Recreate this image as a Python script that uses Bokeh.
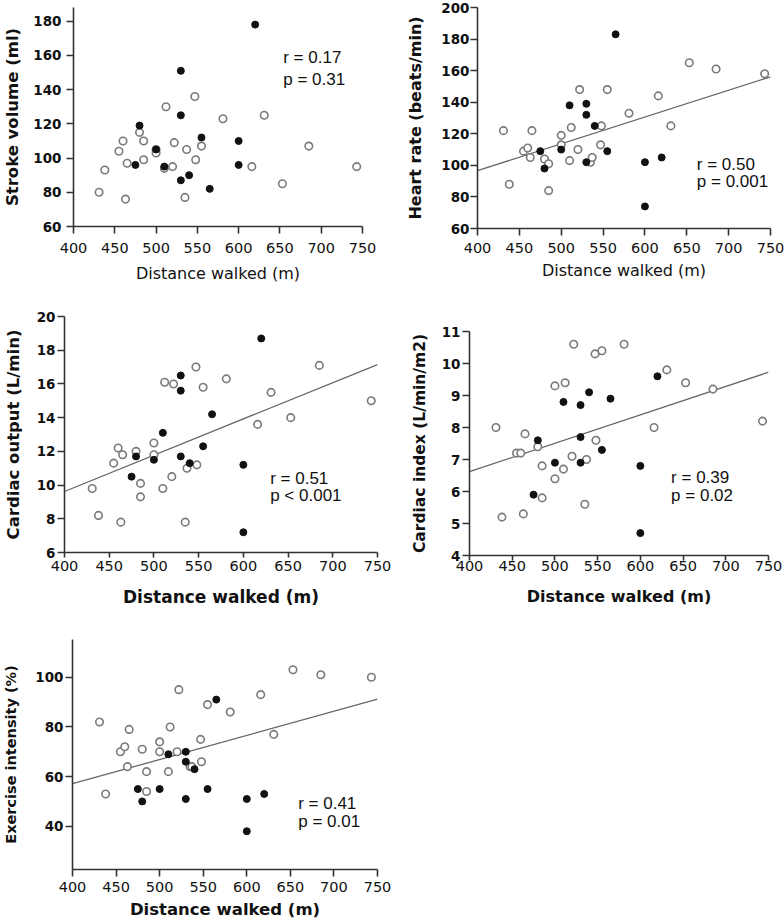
import numpy as np
from bokeh.plotting import figure
from bokeh.models import Range1d, FixedTicker, Label
from bokeh.layouts import column, row
from bokeh.embed import file_html
from bokeh.resources import INLINE

# ---------------- data ----------------
x_ticks = [400, 450, 500, 550, 600, 650, 700, 750]

# distance walked (m); open circles and filled circles
x_open = [431, 438, 455, 460, 463, 465, 480, 485, 485, 500, 500, 510, 512,
          520, 522, 535, 537, 547, 548, 555, 581, 616, 631, 653, 685, 743]
x_filled = [475, 480, 500, 510, 530, 530, 530, 540, 555, 565, 600, 600, 620]

sv_open = [80, 93, 104, 110, 76, 97, 115, 110, 99, 105, 103, 94, 130,
           95, 109, 77, 105, 136, 99, 107, 123, 95, 125, 85, 107, 95]
sv_filled = [96, 119, 105, 95, 151, 125, 87, 90, 112, 82, 110, 96, 178]

hr_open = [122, 88, 109, 111, 105, 122, 104, 101, 84, 119, 113, 103, 124,
           110, 148, 102, 105, 113, 125, 148, 133, 144, 125, 165, 161, 158]
hr_filled = [109, 98, 110, 138, 139, 132, 102, 125, 109, 183, 102, 74, 105]

co_open = [9.8, 8.2, 11.3, 12.2, 7.8, 11.8, 12.0, 10.1, 9.3, 12.5, 11.8, 9.8, 16.1,
           10.5, 16.0, 7.8, 11.0, 17.0, 11.2, 15.8, 16.3, 13.6, 15.5, 14.0, 17.1, 15.0]
co_filled = [10.5, 11.7, 11.5, 13.1, 16.5, 15.6, 11.7, 11.3, 12.3, 14.2, 11.2, 7.2, 18.7]

ci_open = [8.0, 5.2, 7.2, 7.2, 5.3, 7.8, 7.4, 6.8, 5.8, 9.3, 6.4, 6.7, 9.4,
           7.1, 10.6, 5.6, 7.0, 10.3, 7.6, 10.4, 10.6, 8.0, 9.8, 9.4, 9.2, 8.2]
ci_filled = [5.9, 7.6, 6.9, 8.8, 8.7, 7.7, 6.9, 9.1, 7.3, 8.9, 6.8, 4.7, 9.6]

ei_open = [82, 53, 70, 72, 64, 79, 71, 62, 54, 74, 70, 62, 80,
           70, 95, 64, 64, 75, 66, 89, 86, 93, 77, 103, 101, 100]
ei_filled = [55, 50, 55, 69, 70, 66, 51, 63, 55, 91, 51, 38, 53]

sv_ticks = [60, 80, 100, 120, 140, 160, 180]
hr_ticks = [60, 80, 100, 120, 140, 160, 180, 200]
co_ticks = [6, 8, 10, 12, 14, 16, 18, 20]
ci_ticks = [4, 5, 6, 7, 8, 9, 10, 11]
ei_ticks = [40, 60, 80, 100]

stats = {
    "sv": ("r = 0.17", "p = 0.31"),
    "hr": ("r = 0.50", "p = 0.001"),
    "co": ("r = 0.51", "p < 0.001"),
    "ci": ("r = 0.39", "p = 0.02"),
    "ei": ("r = 0.41", "p = 0.01"),
}

TICK_FONT = "DejaVu Sans"
ANN_FONT = "Liberation Sans"
AXIS_COL = "#333333"


def panel(width, height, yr, yticks, borders, ylabel, yo, yf, fit, ann,
          x_label_bold=False, ylab_size="16px", ylab_standoff=7,
          ytick_standoff=2, xlab_standoff=6, xtick_standoff=6,
          xtick_out=7, xlab_size="16px"):
    left, right, top, bottom = borders
    p = figure(width=width, height=height,
               x_range=Range1d(400, 750), y_range=Range1d(*yr),
               output_backend="svg", toolbar_location=None,
               min_border_left=left, min_border_right=right,
               min_border_top=top, min_border_bottom=bottom)
    p.outline_line_color = None
    p.grid.visible = False
    p.background_fill_color = "white"
    p.border_fill_color = "white"

    p.xaxis.ticker = FixedTicker(ticks=x_ticks)
    p.yaxis.ticker = FixedTicker(ticks=yticks)
    for ax in (p.xaxis[0], p.yaxis[0]):
        ax.axis_line_color = AXIS_COL
        ax.axis_line_width = 1.6
        ax.major_tick_line_color = AXIS_COL
        ax.major_tick_line_width = 1.6
        ax.major_tick_in = 0
        ax.minor_tick_line_color = None
        ax.major_label_text_color = "#111111"
        ax.major_label_text_font = TICK_FONT
        ax.axis_label_text_color = "#111111"
        ax.axis_label_text_font = TICK_FONT

    p.yaxis.major_tick_out = 7
    p.yaxis.major_label_text_font_style = "bold"
    p.yaxis.major_label_text_font_size = "13.5px"
    p.yaxis.major_label_standoff = ytick_standoff
    p.yaxis.axis_label = ylabel
    p.yaxis.axis_label_text_font_style = "bold"
    p.yaxis.axis_label_text_font_size = ylab_size
    p.yaxis.axis_label_standoff = ylab_standoff

    p.xaxis.major_tick_out = xtick_out
    p.xaxis.major_label_text_font_style = "normal"
    p.xaxis.major_label_text_font_size = "14.5px"
    p.xaxis.major_label_standoff = xtick_standoff
    p.xaxis.axis_label = "Distance walked (m)"
    p.xaxis.axis_label_text_font_style = "bold" if x_label_bold else "normal"
    p.xaxis.axis_label_text_font_size = xlab_size
    p.xaxis.axis_label_standoff = xlab_standoff

    if fit:
        xs = np.array(x_open + x_filled, dtype=float)
        ys = np.array(yo + yf, dtype=float)
        slope, icpt = np.polyfit(xs, ys, 1)
        x_end = [p.x_range.start, p.x_range.end]
        p.line(x_end, [icpt + slope * v for v in x_end],
               line_color="#666666", line_width=1.3)

    p.scatter(x_open, yo, marker="circle", size=7.5, fill_color="white",
              line_color="#7a7a7a", line_width=1.6)
    p.scatter(x_filled, yf, marker="circle", size=7, fill_color="#111111",
              line_color="#111111", line_width=1)

    (ax_, ay1, ay2), lines = ann
    for yy, txt in zip((ay1, ay2), lines):
        p.add_layout(Label(x=ax_, y=yy, text=txt, text_font=ANN_FONT,
                           text_font_size="17px", text_color="#111111",
                           text_baseline="alphabetic", text_align="left"))
    return p


p1 = panel(392, 290, (60, 188), sv_ticks, (69, 30, 7, 64),
           "Stroke volume (ml)", sv_open, sv_filled, False,
           ((654, 159.0, 146.0), stats["sv"]), ylab_size="16.5px",
           ylab_standoff=8, ytick_standoff=5, xtick_standoff=9, xlab_standoff=8)
p2 = panel(392, 290, (60, 200), hr_ticks, (85, 14, 7, 62),
           "Heart rate (beats/min)", hr_open, hr_filled, True,
           ((662, 100.4, 90.0), stats["hr"]), ylab_size="16px",
           ylab_standoff=13, ytick_standoff=1, xtick_standoff=7, xlab_standoff=5)
p3 = panel(392, 322, (6, 20), co_ticks, (63, 15, 26, 60),
           "Cardiac output (L/min)", co_open, co_filled, True,
           ((630, 10.39, 9.37), stats["co"]), x_label_bold=True,
           ylab_size="16.5px", ylab_standoff=11, ytick_standoff=2,
           xtick_out=5, xtick_standoff=3, xlab_standoff=13, xlab_size="17px")
p4 = panel(392, 322, (4, 11), ci_ticks, (77, 16, 41, 57),
           "Cardiac index (L/min/m2)", ci_open, ci_filled, True,
           ((636, 6.45, 5.87), stats["ci"]), x_label_bold=True,
           ylab_size="15.5px", ylab_standoff=10, ytick_standoff=2,
           xtick_out=5, xtick_standoff=0, xlab_standoff=13)
p5 = panel(392, 310, (22.6, 115.2), ei_ticks, (71, 15, 27, 53),
           "Exercise intensity (%)", ei_open, ei_filled, True,
           ((659, 49.0, 41.8), stats["ei"]), x_label_bold=True,
           ylab_size="14.5px", ylab_standoff=13, ytick_standoff=2,
           xtick_standoff=5, xlab_standoff=5, xlab_size="16.5px")

# each figure wrapped in its own column so that frames are not aligned across a row
layout = column(row(column(p1), column(p2)),
                row(column(p3), column(p4)),
                row(column(p5)))
open("out.html", "w").write(file_html(layout, INLINE))
